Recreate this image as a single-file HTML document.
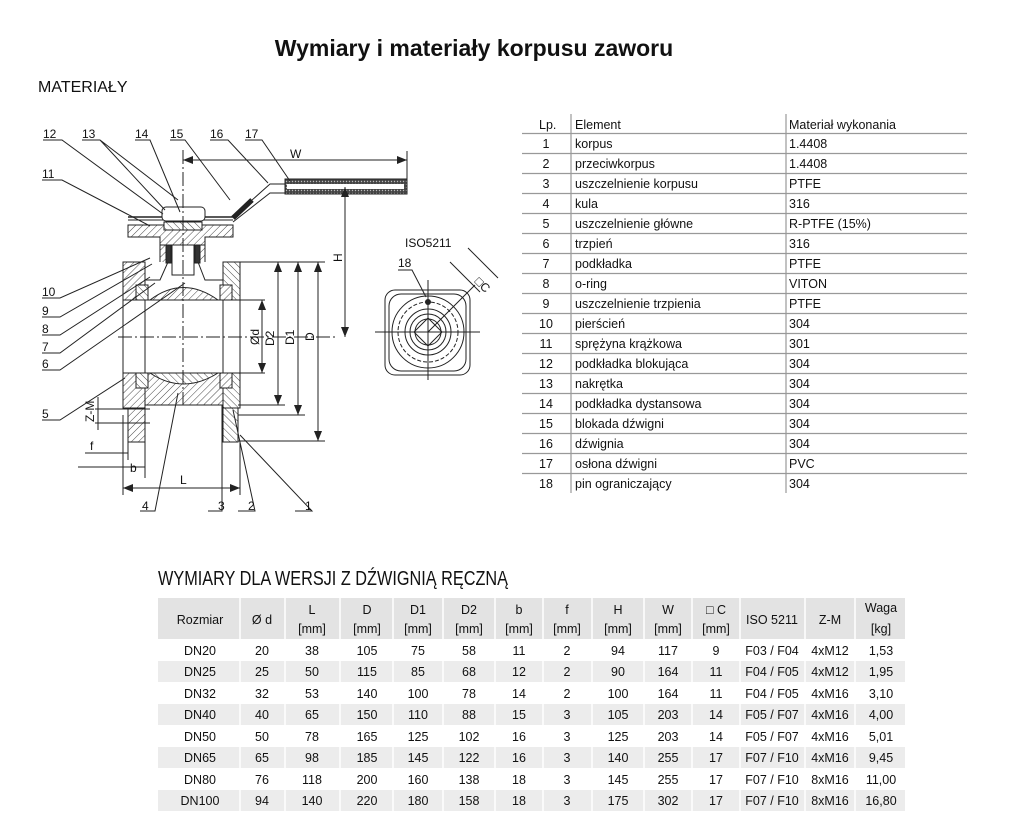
<!DOCTYPE html>
<html><head><meta charset="utf-8"><style>
html,body{margin:0;padding:0;background:#fff;}
svg{display:block;}
text{font-family:"Liberation Sans Narrow","Liberation Sans",sans-serif;fill:#111;}
.n{font-size:12px;}
.t{font-size:12.5px;}
</style></head><body>
<svg width="1017" height="837" viewBox="0 0 1017 837" xmlns="http://www.w3.org/2000/svg">
<defs>
<pattern id="h" width="5" height="5" patternUnits="userSpaceOnUse" patternTransform="rotate(45)">
<rect width="5" height="5" fill="#fff"/><line x1="0" y1="0" x2="0" y2="5" stroke="#333" stroke-width="0.9"/></pattern>
<pattern id="h2" width="5" height="5" patternUnits="userSpaceOnUse" patternTransform="rotate(-45)">
<rect width="5" height="5" fill="#fff"/><line x1="0" y1="0" x2="0" y2="5" stroke="#333" stroke-width="0.9"/></pattern>
<pattern id="dots" width="3" height="3" patternUnits="userSpaceOnUse"><rect width="3" height="3" fill="#444"/><circle cx="1.5" cy="1.5" r="0.7" fill="#bbb"/></pattern>
</defs>

<text x="474" y="56" text-anchor="middle" style="font-family:'Liberation Sans',sans-serif;font-weight:bold;font-size:23px">Wymiary i materiały korpusu zaworu</text>
<text x="38" y="92" style="font-family:'Liberation Sans',sans-serif;font-size:16px">MATERIAŁY</text>

<g stroke="#222" stroke-width="1" fill="none">
<path d="M123 262 H145 V300 H123 Z" fill="url(#h)"/>
<path d="M123 373 H145 V408 H123 Z" fill="url(#h)"/>
<path d="M128 408 H145 V442 H128 Z" fill="url(#h)"/>
<path d="M223 262 H240 V300 H223 Z" fill="url(#h2)"/>
<path d="M223 373 H240 V408 H223 Z" fill="url(#h2)"/>
<path d="M223 408 H238 V442 H223 Z" fill="url(#h2)"/>
<path d="M145 373 H223 V405 H145 Z" fill="url(#h)"/>
<path d="M150 300 Q183 275 218 300 Z" fill="url(#h)"/>
<path d="M150 373 Q183 395 218 373 Z" fill="url(#h2)"/>
<path d="M145 280 H160 L168 262 H198 L205 280 H223" />
<rect x="136" y="285" width="12" height="15" fill="url(#h2)"/>
<rect x="136" y="373" width="12" height="15" fill="url(#h2)"/>
<rect x="220" y="285" width="12" height="15" fill="url(#h)"/>
<rect x="220" y="373" width="12" height="15" fill="url(#h)"/>
<path d="M160 262 V240 H205 V262" fill="url(#h)"/>
<rect x="172" y="235" width="22" height="40" fill="#fff"/>
<rect x="166" y="245" width="5" height="18" fill="#333"/>
<rect x="195" y="245" width="5" height="18" fill="#333"/>
<path d="M128 225 H233 V237 H205 V245 H160 V237 H128 Z" fill="url(#h)"/>
<rect x="164" y="222" width="38" height="8" fill="url(#h2)"/>
<line x1="128" y1="217" x2="233" y2="217" stroke-width="1.5"/>
<line x1="128" y1="220" x2="233" y2="220"/>
<rect x="162" y="207" width="43" height="14" rx="4" fill="#fff"/>
<path d="M233 217 L270 184 H285 M233 222 L270 193 H285"/>
<path d="M233 218 L252 200" stroke="#222" stroke-width="5"/>
<rect x="285" y="179" width="122" height="15" fill="url(#dots)"/>
<rect x="287" y="184" width="117" height="5" fill="#fff" stroke="none"/>
<line x1="183" y1="150" x2="183" y2="405" stroke-dasharray="14 3 2 3"/>
<line x1="118" y1="337" x2="338" y2="337" stroke-dasharray="14 3 2 3"/>
<line x1="123" y1="300" x2="265" y2="300"/>
<line x1="123" y1="373" x2="265" y2="373"/>
<line x1="145" y1="300" x2="145" y2="373"/>
<line x1="223" y1="300" x2="223" y2="373"/>
<line x1="123" y1="300" x2="123" y2="373"/>
<line x1="240" y1="300" x2="240" y2="373"/>
<line x1="240" y1="262" x2="325" y2="262"/>
<line x1="238" y1="405" x2="285" y2="405"/>
<line x1="238" y1="415" x2="305" y2="415"/>
<line x1="238" y1="441" x2="325" y2="441"/>
<line x1="262" y1="300" x2="262" y2="373"/>
<line x1="278" y1="262" x2="278" y2="405"/>
<line x1="298" y1="262" x2="298" y2="415"/>
<line x1="318" y1="262" x2="318" y2="441"/>
<line x1="345" y1="187" x2="345" y2="337"/>
<line x1="183" y1="160" x2="407" y2="160"/>
<line x1="407" y1="151" x2="407" y2="186"/>
<line x1="123" y1="415" x2="123" y2="495"/>
<line x1="240" y1="442" x2="240" y2="495"/>
<line x1="78" y1="467" x2="145" y2="467"/>
<line x1="145" y1="442" x2="145" y2="478"/>
<line x1="85" y1="453" x2="128" y2="453"/>
<line x1="128" y1="442" x2="128" y2="460"/>
<line x1="98" y1="397" x2="98" y2="430"/>
<line x1="95" y1="409" x2="150" y2="409"/>
<line x1="95" y1="423" x2="150" y2="423"/>
<path d="M43 140 H62 L163 214"/>
<path d="M82 140 H100 L165 210 M100 140 L178 200"/>
<path d="M135 140 H150 L180 212"/>
<path d="M170 140 H185 L230 200"/>
<path d="M210 140 H228 L268 183"/>
<path d="M245 140 H262 L290 181"/>
<path d="M42 180 H62 L150 226"/>
<path d="M42 298 H60 L150 258"/>
<path d="M42 317 H60 L152 264"/>
<path d="M42 335 H60 L150 277"/>
<path d="M42 353 H60 L155 283"/>
<path d="M42 370 H60 L185 283"/>
<path d="M42 420 H60 L125 378"/>
<path d="M140 511 H155 L178 393"/>
<path d="M208 511 H222 L222 405"/>
<path d="M238 511 H255 L233 410"/>
<path d="M295 511 H312 L240 435"/>
</g>
<g fill="#222">
<path d="M258 310 L262 300 L266 310 Z"/><path d="M258 363 L262 373 L266 363 Z"/>
<path d="M274 272 L278 262 L282 272 Z"/><path d="M274 395 L278 405 L282 395 Z"/>
<path d="M294 272 L298 262 L302 272 Z"/><path d="M294 405 L298 415 L302 405 Z"/>
<path d="M314 272 L318 262 L322 272 Z"/><path d="M314 431 L318 441 L322 431 Z"/>
<path d="M341 197 L345 187 L349 197 Z"/><path d="M341 327 L345 337 L349 327 Z"/>
<path d="M193 156 L183 160 L193 164 Z"/><path d="M397 156 L407 160 L397 164 Z"/>
<path d="M133 484 L123 488 L133 492 Z"/><path d="M230 484 L240 488 L230 492 Z"/>
</g>
<line x1="123" y1="488" x2="240" y2="488" stroke="#222"/>
<g class="n">
<text x="43" y="138">12</text><text x="82" y="138">13</text><text x="135" y="138">14</text><text x="170" y="138">15</text><text x="210" y="138">16</text><text x="245" y="138">17</text>
<text x="42" y="178">11</text><text x="42" y="296">10</text><text x="42" y="315">9</text><text x="42" y="333">8</text><text x="42" y="351">7</text><text x="42" y="368">6</text><text x="42" y="418">5</text>
<text x="142" y="510">4</text><text x="218" y="510">3</text><text x="248" y="510">2</text><text x="305" y="510">1</text>
<text x="290" y="158">W</text><text x="90" y="450">f</text><text x="130" y="472">b</text><text x="180" y="484">L</text>
<text transform="translate(342,262) rotate(-90)">H</text>
<text transform="translate(259,345) rotate(-90)">Ød</text>
<text transform="translate(274,346) rotate(-90)">D2</text>
<text transform="translate(294,345) rotate(-90)">D1</text>
<text transform="translate(314,341) rotate(-90)">D</text>
<text transform="translate(94,422) rotate(-90)">Z-M</text>
<text x="405" y="247">ISO5211</text><text x="398" y="267">18</text>
<text transform="translate(474,282) rotate(45)">□C</text>
</g>
<g stroke="#222" fill="none" stroke-width="1">
<rect x="385" y="290" width="85" height="85" rx="10"/>
<rect x="389" y="294" width="77" height="77" rx="12"/>
<circle cx="428" cy="332" r="36"/>
<circle cx="428" cy="332" r="30" stroke-dasharray="4 2"/>
<circle cx="428" cy="332" r="23"/>
<circle cx="428" cy="332" r="18"/>
<circle cx="428" cy="332" r="13"/>
<path d="M428 318 L442 332 L428 346 L414 332 Z"/>
<line x1="375" y1="332" x2="480" y2="332"/>
<line x1="428" y1="280" x2="428" y2="380"/>
<path d="M398 270 H412 L426 297"/>
<path d="M450 262 L480 292 M468 248 L498 278 M428 332 L475 285"/>
</g>
<circle cx="428" cy="302" r="3" fill="#222"/>

<g class="t">
<text x="539" y="129">Lp.</text><text x="575" y="129">Element</text><text x="789" y="129">Materiał wykonania</text>
</g>
<g stroke="#999" stroke-width="1.2">
<line x1="571" y1="114" x2="571" y2="493"/><line x1="786" y1="114" x2="786" y2="493"/>
<line x1="522" y1="133.5" x2="967" y2="133.5"/><line x1="522" y1="153.5" x2="967" y2="153.5"/><line x1="522" y1="173.5" x2="967" y2="173.5"/><line x1="522" y1="193.5" x2="967" y2="193.5"/><line x1="522" y1="213.5" x2="967" y2="213.5"/><line x1="522" y1="233.5" x2="967" y2="233.5"/><line x1="522" y1="253.5" x2="967" y2="253.5"/><line x1="522" y1="273.5" x2="967" y2="273.5"/><line x1="522" y1="293.5" x2="967" y2="293.5"/><line x1="522" y1="313.5" x2="967" y2="313.5"/><line x1="522" y1="333.5" x2="967" y2="333.5"/><line x1="522" y1="353.5" x2="967" y2="353.5"/><line x1="522" y1="373.5" x2="967" y2="373.5"/><line x1="522" y1="393.5" x2="967" y2="393.5"/><line x1="522" y1="413.5" x2="967" y2="413.5"/><line x1="522" y1="433.5" x2="967" y2="433.5"/><line x1="522" y1="453.5" x2="967" y2="453.5"/><line x1="522" y1="473.5" x2="967" y2="473.5"/>
</g>
<g class="t">
<text x="546" y="148" text-anchor="middle">1</text><text x="575" y="148">korpus</text><text x="789" y="148">1.4408</text>
<text x="546" y="168" text-anchor="middle">2</text><text x="575" y="168">przeciwkorpus</text><text x="789" y="168">1.4408</text>
<text x="546" y="188" text-anchor="middle">3</text><text x="575" y="188">uszczelnienie korpusu</text><text x="789" y="188">PTFE</text>
<text x="546" y="208" text-anchor="middle">4</text><text x="575" y="208">kula</text><text x="789" y="208">316</text>
<text x="546" y="228" text-anchor="middle">5</text><text x="575" y="228">uszczelnienie główne</text><text x="789" y="228">R-PTFE (15%)</text>
<text x="546" y="248" text-anchor="middle">6</text><text x="575" y="248">trzpień</text><text x="789" y="248">316</text>
<text x="546" y="268" text-anchor="middle">7</text><text x="575" y="268">podkładka</text><text x="789" y="268">PTFE</text>
<text x="546" y="288" text-anchor="middle">8</text><text x="575" y="288">o-ring</text><text x="789" y="288">VITON</text>
<text x="546" y="308" text-anchor="middle">9</text><text x="575" y="308">uszczelnienie trzpienia</text><text x="789" y="308">PTFE</text>
<text x="546" y="328" text-anchor="middle">10</text><text x="575" y="328">pierścień</text><text x="789" y="328">304</text>
<text x="546" y="348" text-anchor="middle">11</text><text x="575" y="348">sprężyna krążkowa</text><text x="789" y="348">301</text>
<text x="546" y="368" text-anchor="middle">12</text><text x="575" y="368">podkładka blokująca</text><text x="789" y="368">304</text>
<text x="546" y="388" text-anchor="middle">13</text><text x="575" y="388">nakrętka</text><text x="789" y="388">304</text>
<text x="546" y="408" text-anchor="middle">14</text><text x="575" y="408">podkładka dystansowa</text><text x="789" y="408">304</text>
<text x="546" y="428" text-anchor="middle">15</text><text x="575" y="428">blokada dźwigni</text><text x="789" y="428">304</text>
<text x="546" y="448" text-anchor="middle">16</text><text x="575" y="448">dźwignia</text><text x="789" y="448">304</text>
<text x="546" y="468" text-anchor="middle">17</text><text x="575" y="468">osłona dźwigni</text><text x="789" y="468">PVC</text>
<text x="546" y="488" text-anchor="middle">18</text><text x="575" y="488">pin ograniczający</text><text x="789" y="488">304</text>
</g>

<text x="158" y="585" textLength="350" lengthAdjust="spacingAndGlyphs" style="font-family:'Liberation Sans',sans-serif;font-size:20px">WYMIARY DLA WERSJI Z DŹWIGNIĄ RĘCZNĄ</text>
<rect x="158" y="598" width="747" height="41" fill="#e3e3e3"/>
<rect x="158" y="661" width="747" height="21" fill="#ececec"/>
<rect x="158" y="704" width="747" height="21" fill="#ececec"/>
<rect x="158" y="747" width="747" height="21" fill="#ececec"/>
<rect x="158" y="790" width="747" height="21" fill="#ececec"/>
<g stroke="#fff" stroke-width="1.5">
<line x1="240" y1="598" x2="240" y2="812"/><line x1="285" y1="598" x2="285" y2="812"/><line x1="340" y1="598" x2="340" y2="812"/><line x1="393" y1="598" x2="393" y2="812"/><line x1="443" y1="598" x2="443" y2="812"/><line x1="495" y1="598" x2="495" y2="812"/><line x1="543" y1="598" x2="543" y2="812"/><line x1="592" y1="598" x2="592" y2="812"/><line x1="644" y1="598" x2="644" y2="812"/><line x1="692" y1="598" x2="692" y2="812"/><line x1="740" y1="598" x2="740" y2="812"/><line x1="805" y1="598" x2="805" y2="812"/><line x1="855" y1="598" x2="855" y2="812"/>
</g>
<g class="t" text-anchor="middle">
<text x="200" y="624">Rozmiar</text><text x="262" y="624">Ø d</text>
<text x="312" y="614">L</text><text x="312" y="633">[mm]</text>
<text x="367" y="614">D</text><text x="367" y="633">[mm]</text>
<text x="418" y="614">D1</text><text x="418" y="633">[mm]</text>
<text x="469" y="614">D2</text><text x="469" y="633">[mm]</text>
<text x="519" y="614">b</text><text x="519" y="633">[mm]</text>
<text x="567" y="614">f</text><text x="567" y="633">[mm]</text>
<text x="618" y="614">H</text><text x="618" y="633">[mm]</text>
<text x="668" y="614">W</text><text x="668" y="633">[mm]</text>
<text x="716" y="614">□ C</text><text x="716" y="633">[mm]</text>
<text x="772" y="624">ISO 5211</text><text x="830" y="624">Z-M</text>
<text x="881" y="612">Waga</text><text x="881" y="633">[kg]</text>
</g>
<g class="t" text-anchor="middle">
<g transform="translate(0,655)"><text x="200">DN20</text><text x="262">20</text><text x="312">38</text><text x="367">105</text><text x="418">75</text><text x="469">58</text><text x="519">11</text><text x="567">2</text><text x="618">94</text><text x="668">117</text><text x="716">9</text><text x="772">F03 / F04</text><text x="830">4xM12</text><text x="881">1,53</text></g>
<g transform="translate(0,676)"><text x="200">DN25</text><text x="262">25</text><text x="312">50</text><text x="367">115</text><text x="418">85</text><text x="469">68</text><text x="519">12</text><text x="567">2</text><text x="618">90</text><text x="668">164</text><text x="716">11</text><text x="772">F04 / F05</text><text x="830">4xM12</text><text x="881">1,95</text></g>
<g transform="translate(0,698)"><text x="200">DN32</text><text x="262">32</text><text x="312">53</text><text x="367">140</text><text x="418">100</text><text x="469">78</text><text x="519">14</text><text x="567">2</text><text x="618">100</text><text x="668">164</text><text x="716">11</text><text x="772">F04 / F05</text><text x="830">4xM16</text><text x="881">3,10</text></g>
<g transform="translate(0,719)"><text x="200">DN40</text><text x="262">40</text><text x="312">65</text><text x="367">150</text><text x="418">110</text><text x="469">88</text><text x="519">15</text><text x="567">3</text><text x="618">105</text><text x="668">203</text><text x="716">14</text><text x="772">F05 / F07</text><text x="830">4xM16</text><text x="881">4,00</text></g>
<g transform="translate(0,741)"><text x="200">DN50</text><text x="262">50</text><text x="312">78</text><text x="367">165</text><text x="418">125</text><text x="469">102</text><text x="519">16</text><text x="567">3</text><text x="618">125</text><text x="668">203</text><text x="716">14</text><text x="772">F05 / F07</text><text x="830">4xM16</text><text x="881">5,01</text></g>
<g transform="translate(0,762)"><text x="200">DN65</text><text x="262">65</text><text x="312">98</text><text x="367">185</text><text x="418">145</text><text x="469">122</text><text x="519">16</text><text x="567">3</text><text x="618">140</text><text x="668">255</text><text x="716">17</text><text x="772">F07 / F10</text><text x="830">4xM16</text><text x="881">9,45</text></g>
<g transform="translate(0,784)"><text x="200">DN80</text><text x="262">76</text><text x="312">118</text><text x="367">200</text><text x="418">160</text><text x="469">138</text><text x="519">18</text><text x="567">3</text><text x="618">145</text><text x="668">255</text><text x="716">17</text><text x="772">F07 / F10</text><text x="830">8xM16</text><text x="881">11,00</text></g>
<g transform="translate(0,805)"><text x="200">DN100</text><text x="262">94</text><text x="312">140</text><text x="367">220</text><text x="418">180</text><text x="469">158</text><text x="519">18</text><text x="567">3</text><text x="618">175</text><text x="668">302</text><text x="716">17</text><text x="772">F07 / F10</text><text x="830">8xM16</text><text x="881">16,80</text></g>
</g>
</svg>
</body></html>
